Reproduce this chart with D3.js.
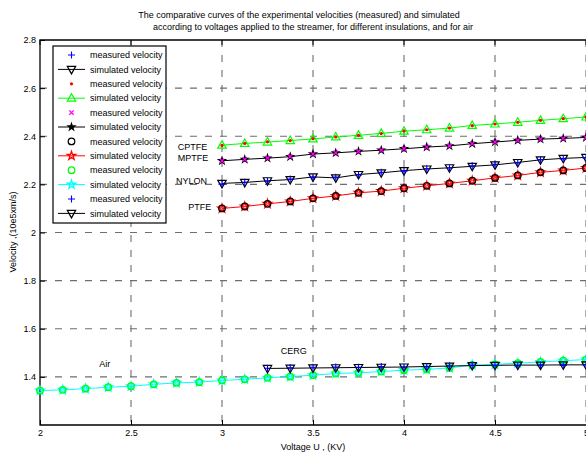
<!DOCTYPE html>
<html>
<head>
<meta charset="utf-8">
<script src="https://cdn.jsdelivr.net/npm/d3@7"></script>
<style>
  body { margin: 0; background: #fff; }
  text { font-family: Arial, "Liberation Sans", sans-serif; fill: #000; }
</style>
</head>
<body>
<div class="chart"></div>
<script>
// voltages (KV)
const voltAir = [2, 2.125, 2.25, 2.375, 2.5, 2.625, 2.75, 2.875, 3, 3.125, 3.25, 3.375, 3.5,
  3.625, 3.75, 3.875, 4, 4.125, 4.25, 4.375, 4.5, 4.625, 4.75, 4.875, 5];
const voltIns = [3, 3.125, 3.25, 3.375, 3.5, 3.625, 3.75, 3.875, 4, 4.125, 4.25, 4.375, 4.5,
  4.625, 4.75, 4.875, 5];
const voltCerg = [3.25, 3.375, 3.5, 3.625, 3.75, 3.875, 4, 4.125, 4.25, 4.375, 4.5, 4.625, 4.75, 4.875, 5];

// velocities (10e5 m/s)
const nylonMeas = [2.201, 2.209, 2.213, 2.222, 2.229, 2.230, 2.239, 2.250, 2.255, 2.265, 2.268, 2.277, 2.283, 2.289, 2.303, 2.306, 2.310];
const nylonSim  = [2.204, 2.208, 2.215, 2.220, 2.231, 2.227, 2.241, 2.248, 2.257, 2.264, 2.269, 2.275, 2.281, 2.291, 2.302, 2.308, 2.312];
const cptfeMeas = [2.362, 2.370, 2.377, 2.382, 2.390, 2.397, 2.404, 2.411, 2.422, 2.427, 2.434, 2.444, 2.451, 2.458, 2.466, 2.473, 2.480];
const cptfeSim  = [2.363, 2.370, 2.376, 2.382, 2.389, 2.397, 2.404, 2.412, 2.421, 2.427, 2.434, 2.445, 2.451, 2.458, 2.466, 2.473, 2.480];
const mptfeMeas = [2.298, 2.304, 2.309, 2.315, 2.326, 2.331, 2.337, 2.342, 2.348, 2.355, 2.360, 2.369, 2.376, 2.383, 2.388, 2.391, 2.395];
const mptfeSim  = [2.298, 2.304, 2.309, 2.315, 2.326, 2.331, 2.337, 2.342, 2.348, 2.355, 2.360, 2.369, 2.376, 2.383, 2.388, 2.391, 2.395];
const ptfeMeas  = [2.100, 2.108, 2.119, 2.129, 2.142, 2.152, 2.165, 2.172, 2.184, 2.194, 2.204, 2.215, 2.227, 2.237, 2.250, 2.258, 2.268];
const ptfeSim   = [2.100, 2.108, 2.119, 2.129, 2.142, 2.152, 2.165, 2.172, 2.184, 2.194, 2.204, 2.215, 2.227, 2.237, 2.250, 2.258, 2.268];
const airMeas   = [1.343, 1.346, 1.351, 1.357, 1.361, 1.369, 1.375, 1.378, 1.385, 1.390, 1.396, 1.401, 1.407,
  1.414, 1.417, 1.422, 1.428, 1.431, 1.437, 1.449, 1.452, 1.457, 1.462, 1.467, 1.472];
const airSim    = [1.343, 1.346, 1.351, 1.357, 1.361, 1.369, 1.375, 1.378, 1.385, 1.390, 1.396, 1.401, 1.407,
  1.414, 1.417, 1.422, 1.428, 1.431, 1.437, 1.449, 1.452, 1.457, 1.462, 1.467, 1.472];
const cergMeas  = [1.436, 1.438, 1.440, 1.441, 1.440, 1.443, 1.440, 1.442, 1.445, 1.449, 1.448, 1.446, 1.449, 1.448, 1.451];
const cergSim   = [1.435, 1.436, 1.437, 1.438, 1.439, 1.440, 1.441, 1.443, 1.445, 1.447, 1.448, 1.449, 1.449, 1.450, 1.450];

const xTicks = [2, 2.5, 3, 3.5, 4, 4.5, 5];
const yTicks = [1.4, 1.6, 1.8, 2, 2.2, 2.4, 2.6, 2.8];

const titleLines = [
  "The comparative curves of the experimental velocities  (measured) and simulated",
  "according to voltages applied to the streamer, for different insulations,  and for air"
];

// material names placed next to their curves (data coords)
const curveLabels = [
  { text: "CPTFE", v: 2.757, u: 2.358 },
  { text: "MPTFE", v: 2.757, u: 2.309 },
  { text: "NYLON", v: 2.747, u: 2.214 },
  { text: "PTFE",  v: 2.815, u: 2.105 },
  { text: "Air",   v: 2.325, u: 1.453 },
  { text: "CERG",  v: 3.323, u: 1.510 }
];

const width = 586, height = 452;
const mLeft = 40, mRight = 586, mTop = 40, mBottom = 425;

const svg = d3.select('.chart')
  .append('svg')
  .attr('width', width)
  .attr('height', height);

const x = d3.scaleLinear().domain([2, 5]).range([mLeft, mRight]);
const y = d3.scaleLinear().domain([1.2, 2.8]).range([mBottom, mTop]);

// marker shapes
const markers = {
  plus: (g, c) => g.append('path').attr('d', 'M-3.5,0H3.5M0,-3.5V3.5').attr('stroke', c).attr('fill', 'none').attr('stroke-width', 1.1),
  cross: (g, c) => g.append('path').attr('d', 'M-2.2,-2.2L2.2,2.2M-2.2,2.2L2.2,-2.2').attr('stroke', c).attr('fill', 'none').attr('stroke-width', 1.3),
  dot: (g, c) => g.append('circle').attr('r', 1.6).attr('fill', c),
  circle: (g, c) => g.append('circle').attr('r', 3.3).attr('stroke', c).attr('fill', 'none').attr('stroke-width', 1.2),
  triUp: (g, c) => g.append('path').attr('d', 'M0,-4.5L4.2,3L-4.2,3Z').attr('stroke', c).attr('fill', 'none').attr('stroke-width', 1.2),
  triDown: (g, c) => g.append('path').attr('d', 'M0,4.5L4.2,-3L-4.2,-3Z').attr('stroke', c).attr('fill', 'none').attr('stroke-width', 1.2),
  star: (g, c) => g.append('path').attr('d', d3.symbol(d3.symbolStar, 22)()).attr('stroke', c).attr('fill', 'none').attr('stroke-width', 1.3),
  hexa: (g, c) => g.append('path').attr('d', d3.symbol(d3.symbolStar, 14)()).attr('stroke', c).attr('fill', c).attr('stroke-width', 1.2)
};

const series = [
  { xs: voltIns,  meas: nylonMeas, sim: nylonSim, mMark: 'plus',   mCol: '#0000ff', sCol: '#000000', sMark: 'triDown' },
  { xs: voltIns,  meas: cptfeMeas, sim: cptfeSim, mMark: 'dot',    mCol: '#ff0000', sCol: '#00ff00', sMark: 'triUp' },
  { xs: voltIns,  meas: mptfeMeas, sim: mptfeSim, mMark: 'cross',  mCol: '#ff00ff', sCol: '#000000', sMark: 'hexa' },
  { xs: voltIns,  meas: ptfeMeas,  sim: ptfeSim,  mMark: 'circle', mCol: '#000000', sCol: '#ff0000', sMark: 'star' },
  { xs: voltAir,  meas: airMeas,   sim: airSim,   mMark: 'circle', mCol: '#00ff00', sCol: '#00ffff', sMark: 'star' },
  { xs: voltCerg, meas: cergMeas,  sim: cergSim,  mMark: 'plus',   mCol: '#0000ff', sCol: '#000000', sMark: 'triDown' }
];

// title
svg.selectAll('.title')
  .data(titleLines)
  .enter().append('text')
  .attr('x', (d, i) => i === 0 ? 299 : 313)
  .attr('y', (d, i) => 18 + i * 12)
  .attr('text-anchor', 'middle')
  .attr('font-size', 9)
  .text(d => d);

// dashed grid
const grid = svg.append('g').attr('stroke', '#6e6e6e').attr('stroke-dasharray', '7,8').attr('stroke-width', 1.1);
grid.selectAll('.gx')
  .data(xTicks.filter(d => d > 2))
  .enter().append('line')
  .attr('x1', d => x(d)).attr('x2', d => x(d))
  .attr('y1', mTop).attr('y2', mBottom);
grid.selectAll('.gy')
  .data(yTicks.filter(d => d < 2.8))
  .enter().append('line')
  .attr('y1', d => y(d)).attr('y2', d => y(d))
  .attr('x1', mLeft).attr('x2', mRight);

// axes (ticks inward, matlab style)
svg.append('g')
  .attr('transform', `translate(0,${mBottom})`)
  .call(d3.axisBottom(x).tickValues(xTicks).tickSize(-5).tickPadding(5).tickFormat(d3.format('')))
  .call(g => g.select('.domain').remove())
  .call(g => g.selectAll('text').attr('font-size', 9).attr('font-family', 'Arial, "Liberation Sans", sans-serif'));
svg.append('g')
  .attr('transform', `translate(${mLeft},0)`)
  .call(d3.axisLeft(y).tickValues(yTicks).tickSize(-5).tickPadding(4).tickFormat(d3.format('')))
  .call(g => g.select('.domain').remove())
  .call(g => g.selectAll('text').attr('font-size', 9).attr('font-family', 'Arial, "Liberation Sans", sans-serif'));
svg.append('g')
  .call(g => g.selectAll('line')
    .data(xTicks).enter().append('line')
    .attr('x1', d => x(d)).attr('x2', d => x(d))
    .attr('y1', mTop).attr('y2', mTop + 5)
    .attr('stroke', '#000'));

svg.append('path')
  .attr('d', `M${mRight + 5},${mTop}H${mLeft}V${mBottom}H${mRight + 5}`)
  .attr('fill', 'none')
  .attr('stroke', '#000')
  .attr('stroke-width', 1.3);

// curves
const line = d3.line().x(d => x(d[0])).y(d => y(d[1]));
series.forEach(s => {
  const simPts = s.xs.map((v, i) => [v, s.sim[i]]);
  const measPts = s.xs.map((v, i) => [v, s.meas[i]]);
  svg.append('path')
    .datum(simPts)
    .attr('d', line)
    .attr('fill', 'none')
    .attr('stroke', s.sCol)
    .attr('stroke-width', 1);
  simPts.forEach(p => {
    const g = svg.append('g').attr('transform', `translate(${x(p[0])},${y(p[1])})`);
    markers[s.sMark](g, s.sCol);
  });
  measPts.forEach(p => {
    const g = svg.append('g').attr('transform', `translate(${x(p[0])},${y(p[1])})`);
    markers[s.mMark](g, s.mCol);
  });
});

// curve labels
svg.selectAll('.clabel')
  .data(curveLabels)
  .enter().append('text')
  .attr('x', d => x(d.v))
  .attr('y', d => y(d.u))
  .attr('dy', '0.35em')
  .attr('font-size', 9)
  .text(d => d.text);

// axis titles
svg.append('text')
  .attr('x', 313).attr('y', 450)
  .attr('text-anchor', 'middle')
  .attr('font-size', 9)
  .text('Voltage U , (KV)');
svg.append('text')
  .attr('transform', 'translate(16,232) rotate(-90)')
  .attr('text-anchor', 'middle')
  .attr('font-size', 9)
  .text('Velocity ,(10e5xm/s)');

// legend
const legend = svg.append('g').attr('transform', 'translate(53,46)');
legend.append('rect')
  .attr('width', 113).attr('height', 177)
  .attr('fill', '#fff').attr('stroke', '#000').attr('stroke-width', 1.2);
const legendRows = [];
series.forEach(s => {
  legendRows.push({ label: 'measured velocity', mark: s.mMark, col: s.mCol, line: false });
  legendRows.push({ label: 'simulated velocity', mark: s.sMark, col: s.sCol, line: true });
});
legendRows.forEach((r, i) => {
  const cy = 9 + i * 14.4;
  const row = legend.append('g').attr('transform', `translate(0,${cy})`);
  if (r.line) {
    row.append('line').attr('x1', 5).attr('x2', 32).attr('stroke', r.col).attr('stroke-width', 1);
  }
  markers[r.mark](row.append('g').attr('transform', 'translate(18.5,0)'), r.col);
  row.append('text')
    .attr('x', 37).attr('dy', '0.35em')
    .attr('font-size', 9)
    .text(r.label);
});
</script>
</body>
</html>
